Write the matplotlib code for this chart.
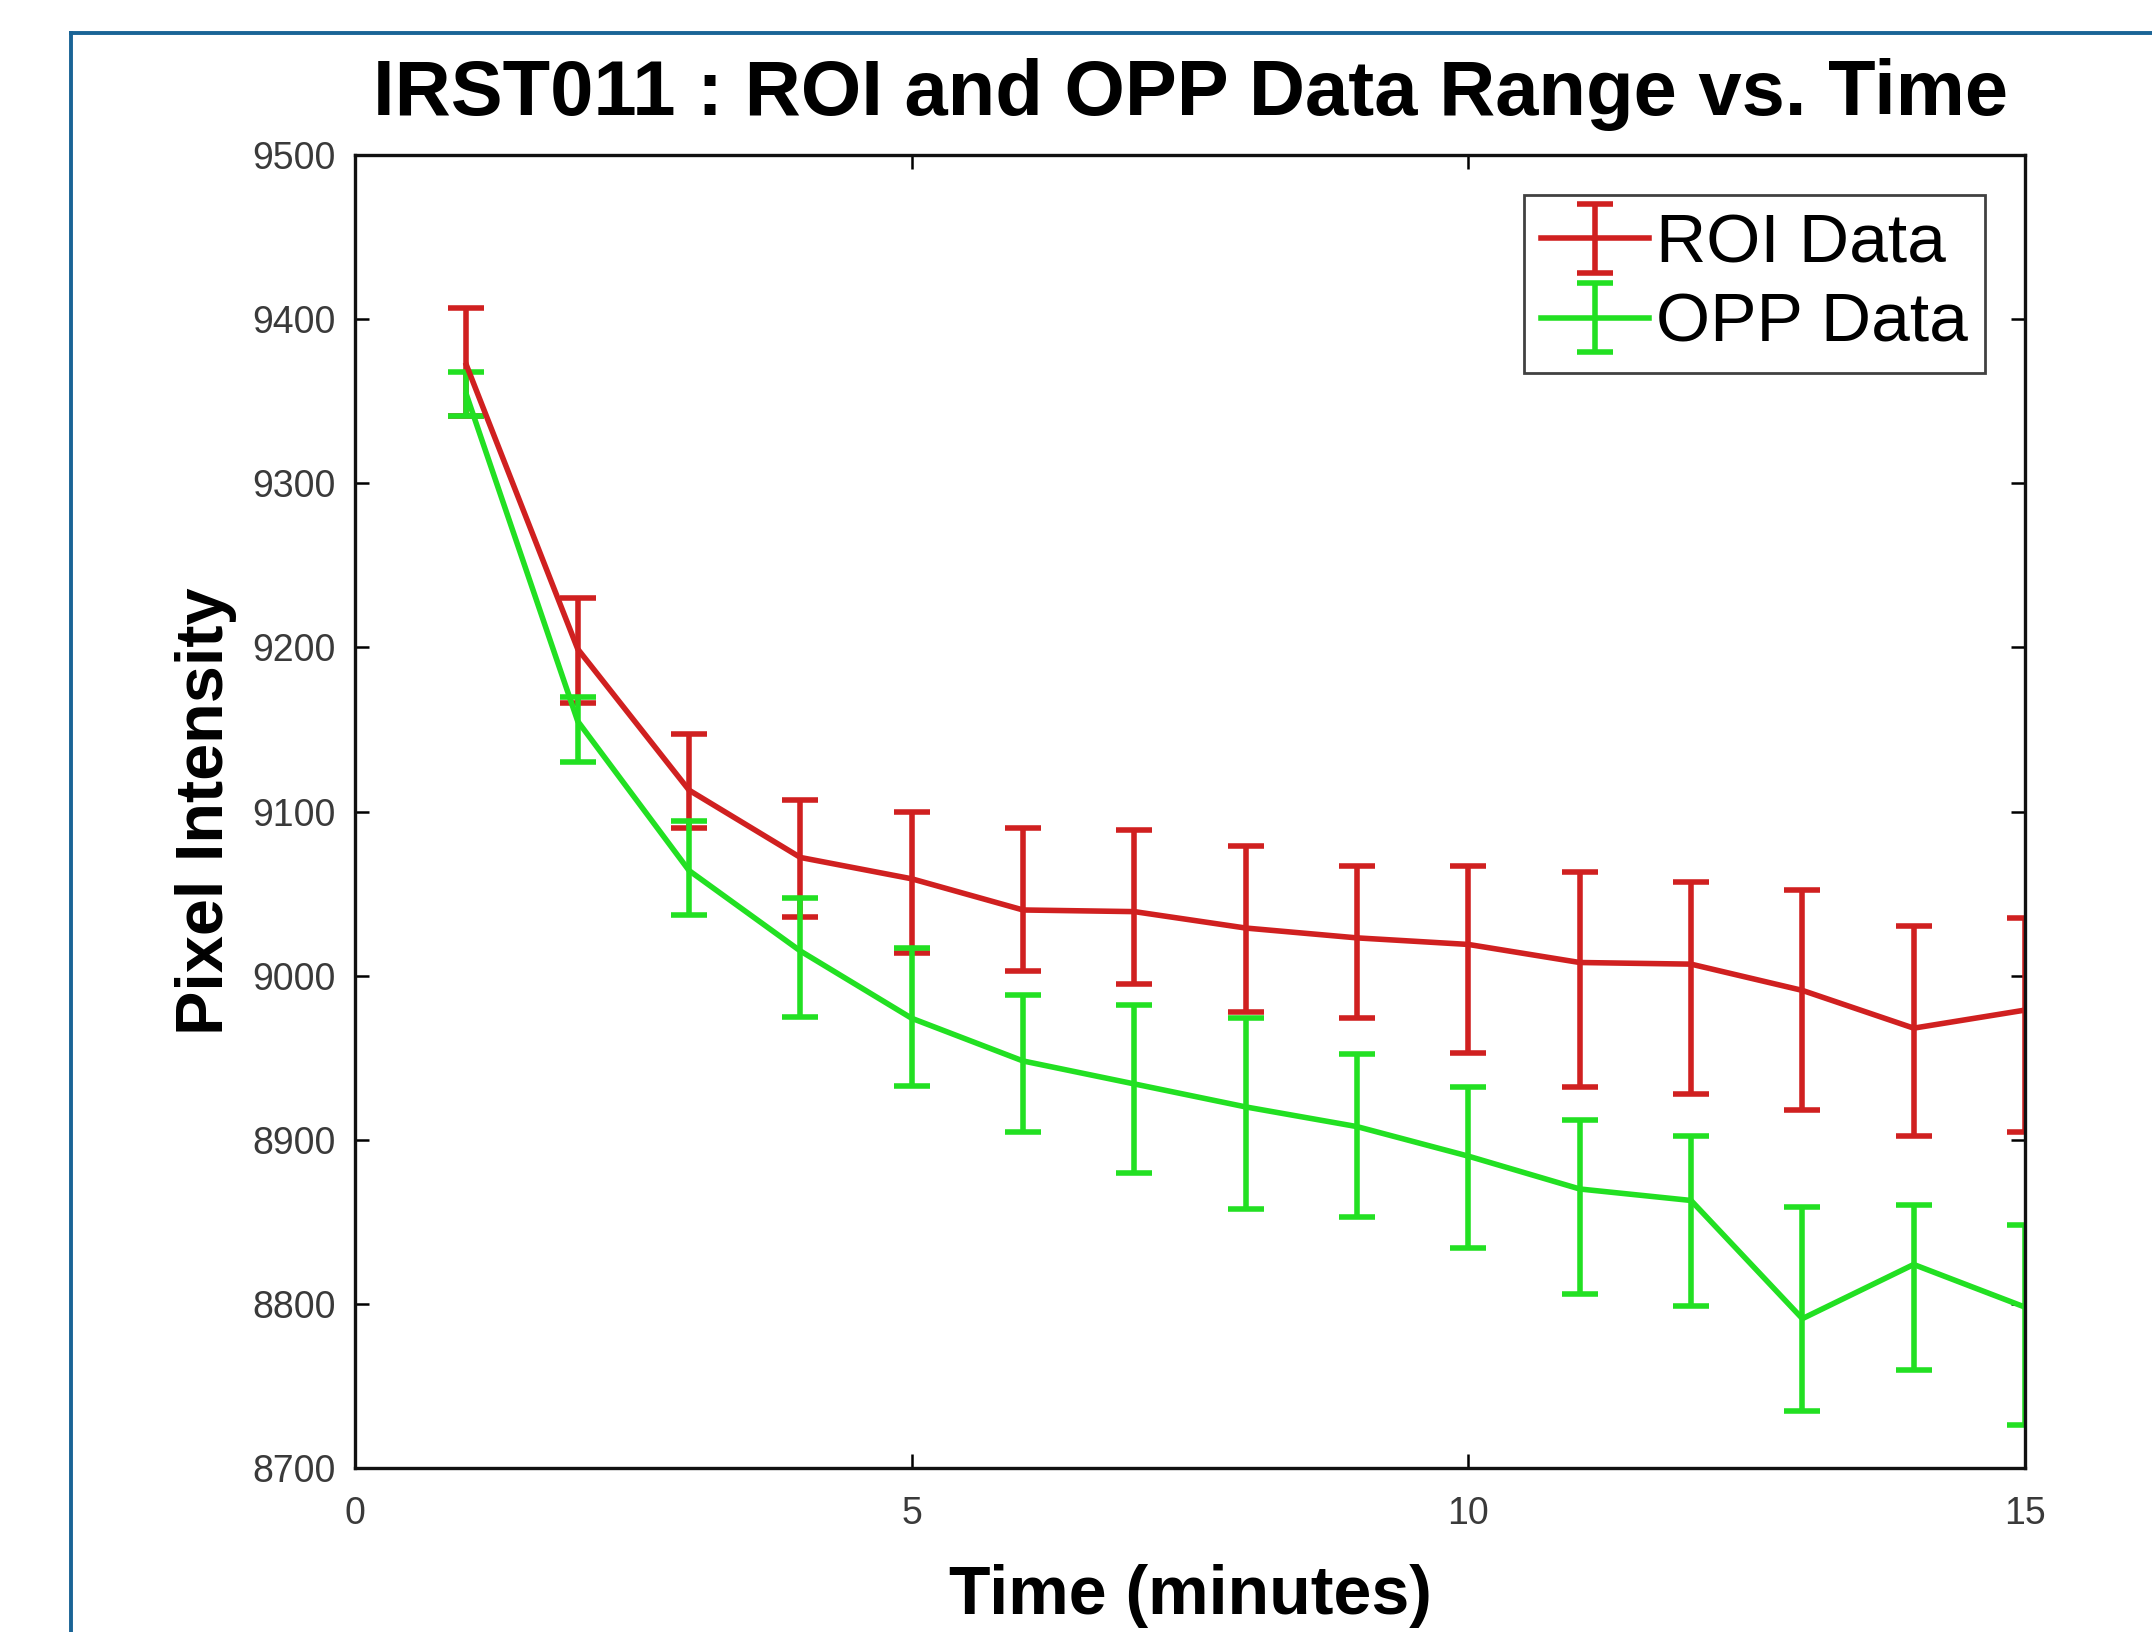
import matplotlib
matplotlib.use("Agg")
import matplotlib.pyplot as plt
from matplotlib.lines import Line2D
import numpy as np

# time points (minutes)
minutes = np.arange(1, 16)

# ROI data: mean, upper and lower end of range
roi_mean = np.array([9372, 9199, 9113, 9072, 9059, 9040, 9039, 9029, 9023, 9019, 9008, 9007, 8991, 8968, 8979])
roi_hi = np.array([9407, 9230, 9147, 9107, 9100, 9090, 9089, 9079, 9067, 9067, 9063, 9057, 9052, 9030, 9035])
roi_lo = np.array([9341, 9166, 9090, 9036, 9014, 9003, 8995, 8978, 8974, 8953, 8932, 8928, 8918, 8902, 8905])

# OPP data
opp_mean = np.array([9354, 9155, 9064, 9015, 8974, 8948, 8934, 8920, 8908, 8890, 8870, 8863, 8791, 8824, 8798])
opp_hi = np.array([9368, 9170, 9094, 9047, 9017, 8988, 8982, 8974, 8952, 8932, 8912, 8902, 8859, 8860, 8848])
opp_lo = np.array([9341, 9130, 9037, 8975, 8933, 8905, 8880, 8858, 8853, 8834, 8806, 8799, 8735, 8760, 8726])

xticks = [0, 5, 10, 15]
yticks = np.arange(8700, 9501, 100)

plt.rcParams["font.family"] = ["Liberation Sans", "DejaVu Sans"]

fig = plt.figure(figsize=(10.76, 8.16), dpi=200)
ax = fig.add_axes([0.165, 0.1005, 0.776, 0.8045])

ax.errorbar(minutes, roi_mean, yerr=[roi_mean - roi_lo, roi_hi - roi_mean],
            color="#d02020", lw=2.0, elinewidth=2.0, capsize=6.5, capthick=2.0,
            label="ROI Data")
ax.errorbar(minutes, opp_mean, yerr=[opp_mean - opp_lo, opp_hi - opp_mean],
            color="#22e022", lw=2.0, elinewidth=2.0, capsize=6.5, capthick=2.0,
            label="OPP Data")

ax.set_xlim(0, 15)
ax.set_ylim(8700, 9500)
ax.set_xticks(xticks)
ax.set_yticks(yticks)

for s in ax.spines.values():
    s.set_linewidth(1.2)
    s.set_color("#111111")

ax.tick_params(direction="in", length=5, width=0.9, top=True, right=True,
               labelsize=13.5, labelcolor="#3a3a3a")
ax.tick_params(axis="x", pad=10)
ax.tick_params(axis="y", pad=7)

ax.set_title("IRST011 : ROI and OPP Data Range vs. Time",
             fontsize=28, fontweight="bold", pad=14.5)
ax.set_xlabel("Time (minutes)", fontsize=24.5, fontweight="bold")
ax.set_ylabel("Pixel Intensity", fontsize=24, fontweight="bold")
ax.xaxis.set_label_coords(0.5, -0.073)
ax.yaxis.set_label_coords(-0.071, 0.5)

leg = ax.legend(loc="upper right", fontsize=25, frameon=True, fancybox=False,
                handlelength=1.55, handletextpad=0.1, borderpad=0.25,
                labelspacing=0.22, borderaxespad=0.58)
leg.get_frame().set_edgecolor("#111111")
leg.get_frame().set_linewidth(1.0)

# blue frame of the screenshot (left and top edges)
fig.add_artist(Line2D([0.033, 0.033], [0.0, 0.9795], color="#1a6496", lw=1.4,
                      transform=fig.transFigure))
fig.add_artist(Line2D([0.033, 1.0], [0.9795, 0.9795], color="#1a6496", lw=1.4,
                      transform=fig.transFigure))

fig.savefig("out.png", dpi=200)
